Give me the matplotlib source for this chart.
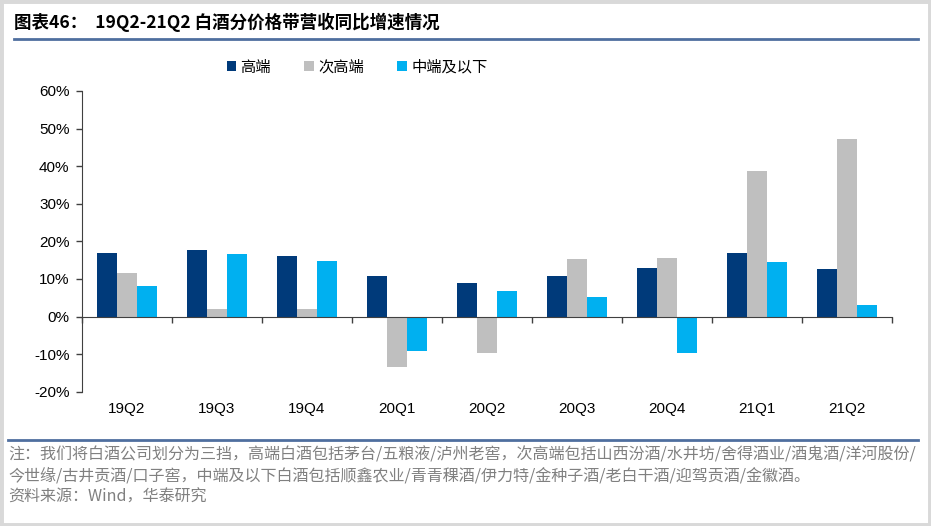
import matplotlib
matplotlib.use("Agg")
import matplotlib.pyplot as plt
from matplotlib.patches import Rectangle
from matplotlib.lines import Line2D
import numpy as np

plt.rcParams['font.family'] = ['Noto Sans CJK SC', 'DejaVu Sans']

quarters = ["19Q2", "19Q3", "19Q4", "20Q1", "20Q2", "20Q3", "20Q4", "21Q1", "21Q2"]
high = [16.9, 17.6, 16.0, 10.8, 8.9, 10.8, 13.0, 16.9, 12.6]
sub_high = [11.5, 2.0, 2.1, -13.3, -9.8, 15.4, 15.7, 38.7, 47.2]
mid_low = [8.0, 16.7, 14.9, -9.1, 6.7, 5.1, -9.7, 14.6, 3.0]
series_names = ["高端", "次高端", "中端及以下"]
colors = ["#003a7a", "#bfbfbf", "#00b0f0"]

title = "图表46：  19Q2-21Q2 白酒分价格带营收同比增速情况"
note1 = "注：我们将白酒公司划分为三挡，高端白酒包括茅台/五粮液/泸州老窖，次高端包括山西汾酒/水井坊/舍得酒业/酒鬼酒/洋河股份/"
note2 = "今世缘/古井贡酒/口子窖，中端及以下白酒包括顺鑫农业/青青稞酒/伊力特/金种子酒/老白干酒/迎驾贡酒/金徽酒。"
source = "资料来源：Wind，华泰研究"

fig = plt.figure(figsize=(9.31, 5.26), dpi=100)
W, H = 931, 526

# grey outer frame
fig.patches.append(Rectangle((0, 0), 1, 1, transform=fig.transFigure,
                             facecolor="none", edgecolor="#d9d9d9", linewidth=5))

fig.text(14 / W, 1 - 22 / H, title, fontsize=12.6, fontweight="bold", va="center", ha="left", color="#000000")
fig.lines.append(Line2D([14 / W, 918 / W], [1 - 39 / H, 1 - 39 / H], transform=fig.transFigure,
                        color="#4f6f9f", linewidth=2))
fig.lines.append(Line2D([8 / W, 918 / W], [1 - 440 / H, 1 - 440 / H], transform=fig.transFigure,
                        color="#4f6f9f", linewidth=2))

ax = fig.add_axes([82 / W, 1 - 391.7 / H, 810 / W, 300.7 / H])
x = np.arange(len(quarters))
bw = 0.222
for k, vals in enumerate([high, sub_high, mid_low]):
    ax.bar(x + (k - 1) * bw, np.array(vals) / 100, width=bw, color=colors[k], label=series_names[k])

ax.set_xlim(-0.5, len(quarters) - 0.5)
ax.set_ylim(-0.2, 0.6)
ax.set_yticks(np.arange(-0.2, 0.61, 0.1))
ax.set_yticklabels([f"{int(round(v * 100))}%" for v in np.arange(-0.2, 0.61, 0.1)], fontsize=11,
                   family=["Liberation Sans", "DejaVu Sans"])
ax.tick_params(axis="y", direction="out", length=4, width=1, color="#404040", pad=5)

for s in ["top", "right"]:
    ax.spines[s].set_visible(False)
ax.spines["left"].set_color("#404040")
ax.spines["bottom"].set_position(("data", 0))
ax.spines["bottom"].set_color("#404040")
ax.set_xticks(np.arange(-0.5, len(quarters), 1.0))
ax.set_xticklabels([])
ax.tick_params(axis="x", direction="out", length=4, width=1, color="#404040")

# category labels sit under the bottom of the plot, not under the zero line
for i, q in enumerate(quarters):
    ax.text(i, -0.228, q, ha="center", va="top", fontsize=11,
            family=["Liberation Sans", "DejaVu Sans"])

leg = ax.legend(loc="center", bbox_to_anchor=(357 / W, 1 - 67 / H), bbox_transform=fig.transFigure,
                ncol=3, frameon=False, fontsize=11, handlelength=0.6, handleheight=0.6,
                handletextpad=0.3, columnspacing=2.2)

fig.text(8 / W, 1 - 455 / H, note1, fontsize=11.55, color="#808080", va="center", ha="left")
fig.text(8 / W, 1 - 476 / H, note2, fontsize=11.55, color="#808080", va="center", ha="left")
fig.text(8 / W, 1 - 497 / H, source, fontsize=11.55, color="#808080", va="center", ha="left")

fig.savefig("out.png", dpi=100, facecolor="white")
